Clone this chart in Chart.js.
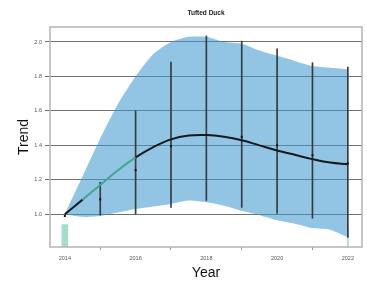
<!DOCTYPE html>
<html>
<head>
<meta charset="utf-8">
<script src="https://cdn.jsdelivr.net/npm/chart.js@4"></script>
<style>
  body { margin: 0; background: #fff; }
  #wrap { width: 367px; height: 287px; }
</style>
</head>
<body>
<div id="wrap"><canvas id="duckChart" width="367" height="287"></canvas></div>
<script>
// Data
const years = [2014, 2015, 2016, 2017, 2018, 2019, 2020, 2021, 2022];
const observed = [0.99, 1.087, 1.256, 1.395, 1.46, 1.45, 1.40, 1.343, 1.296];

const barYears = [2015, 2016, 2017, 2018, 2019, 2020, 2021, 2022];
const barLow = [0.995, 1.0, 1.04, 1.08, 1.04, 1.005, 0.977, 0.866];
const barHigh = [1.186, 1.6, 1.884, 2.035, 2.005, 1.96, 1.88, 1.855];

// smoothed trend and its confidence band, sampled every half year
const curveX = [2014, 2014.5, 2015, 2015.5, 2016, 2016.5, 2017, 2017.5, 2018, 2018.5, 2019, 2019.5, 2020, 2020.5, 2021, 2021.5, 2022];
const trend = [1.0, 1.085, 1.17, 1.255, 1.33, 1.39, 1.435, 1.457, 1.46, 1.45, 1.43, 1.40, 1.37, 1.345, 1.32, 1.30, 1.29];
const bandUpper = [1.0, 1.22, 1.44, 1.64, 1.8, 1.93, 2.0, 2.03, 2.03, 2.0, 1.99, 1.95, 1.92, 1.89, 1.86, 1.85, 1.84];
const bandLower = [1.0, 0.985, 0.99, 1.01, 1.03, 1.045, 1.06, 1.08, 1.07, 1.05, 1.02, 0.995, 0.965, 0.945, 0.92, 0.91, 0.866];

// pale marks at the first and last year
const baseYear = [2014];
const baseRange = [[0.81, 0.94]];
const endYear = [2022];
const endRange = [[0.81, 0.93]];

const xTicks = [2014, 2016, 2018, 2020, 2022];
const yTicks = [1.0, 1.2, 1.4, 1.6, 1.8, 2.0];

const pts = (xs, ys) => xs.map((x, i) => ({ x: x, y: ys[i] }));

// light frame around the plot area
const framePlugin = {
    id: 'frame',
    afterDatasetsDraw(chart) {
        const { ctx, chartArea: a } = chart;
        ctx.save();
        ctx.strokeStyle = '#b4b4b4';
        ctx.lineWidth = 1.5;
        ctx.strokeRect(a.left, a.top, a.right - a.left, a.bottom - a.top);
        ctx.restore();
    }
};

const ctx = document.getElementById('duckChart').getContext('2d');
new Chart(ctx, {
    type: 'line',
    data: {
        datasets: [
            {
                label: 'lower',
                data: pts(curveX, bandLower),
                borderWidth: 0,
                pointRadius: 0,
                tension: 0.25,
                fill: false,
                order: 7
            },
            {
                label: 'upper',
                data: pts(curveX, bandUpper),
                borderWidth: 0,
                pointRadius: 0,
                tension: 0.2,
                fill: '-1',
                backgroundColor: 'rgba(64, 152, 205, 0.57)',
                order: 6
            },
            {
                type: 'bar',
                label: 'end',
                data: endYear.map((x, i) => ({ x: x, y: endRange[i] })),
                backgroundColor: '#b5e2d4',
                barThickness: 1.5,
                grouped: false,
                order: 5
            },
            {
                type: 'bar',
                label: 'range',
                data: barYears.map((x, i) => ({ x: x, y: [barLow[i], barHigh[i]] })),
                backgroundColor: '#363c40',
                barThickness: 1,
                grouped: false,
                order: 4
            },
            {
                type: 'bar',
                label: 'base',
                data: baseYear.map((x, i) => ({ x: x, y: baseRange[i] })),
                backgroundColor: '#a6dccb',
                barThickness: 6,
                grouped: false,
                order: 3
            },
            {
                label: 'trend',
                data: pts(curveX, trend),
                borderColor: '#151a1d',
                borderWidth: 2,
                pointRadius: 0,
                tension: 0.4,
                fill: false,
                segment: {
                    borderColor: c => (c.p0DataIndex >= 1 && c.p0DataIndex < 4) ? '#3fa98c' : '#151a1d'
                },
                order: 2
            },
            {
                label: 'index',
                data: pts(years, observed),
                showLine: false,
                pointStyle: 'rect',
                pointRadius: 1.4,
                pointBackgroundColor: '#111',
                pointBorderColor: '#111',
                borderWidth: 0,
                order: 1
            }
        ]
    },
    options: {
        responsive: false,
        animation: false,
        layout: { padding: { left: 0, right: 5, top: 0, bottom: 0 } },
        plugins: {
            legend: { display: false },
            tooltip: { enabled: false },
            title: {
                display: true,
                text: 'Tufted Duck',
                fullSize: false,
                color: '#222',
                font: { family: 'Liberation Sans, Arial, sans-serif', size: 6.5, weight: 'bold', lineHeight: 1.2 },
                padding: { top: 9, bottom: 10.2 }
            }
        },
        scales: {
            x: {
                type: 'linear',
                min: 2013.58,
                max: 2022.4,
                offset: false,
                afterBuildTicks: s => { s.ticks = xTicks.map(v => ({ value: v })); },
                afterFit: s => { s.height = 40; },
                border: { display: false },
                grid: { drawOnChartArea: false, tickLength: 3, color: '#999' },
                ticks: {
                    padding: 5,
                    color: '#555',
                    font: { family: 'Liberation Sans, Arial, sans-serif', size: 5.5 },
                    maxRotation: 0,
                    callback: v => String(v)
                },
                title: {
                    display: true,
                    text: 'Year',
                    color: '#111',
                    font: { family: 'Liberation Sans, Arial, sans-serif', size: 14 },
                    padding: 5
                }
            },
            y: {
                type: 'linear',
                min: 0.81,
                max: 2.087,
                beginAtZero: false,
                afterBuildTicks: s => { s.ticks = yTicks.map(v => ({ value: v })); },
                afterFit: s => { s.width = 50; },
                border: { display: false },
                grid: { color: '#707070', lineWidth: 1, tickLength: 5 },
                ticks: {
                    padding: 3,
                    color: '#555',
                    font: { family: 'Liberation Sans, Arial, sans-serif', size: 5.5 },
                    callback: v => v.toFixed(1)
                },
                title: {
                    display: true,
                    text: 'Trend',
                    color: '#111',
                    font: { family: 'Liberation Sans, Arial, sans-serif', size: 14 },
                    padding: 16
                }
            }
        }
    },
    plugins: [framePlugin]
});
</script>
</body>
</html>
